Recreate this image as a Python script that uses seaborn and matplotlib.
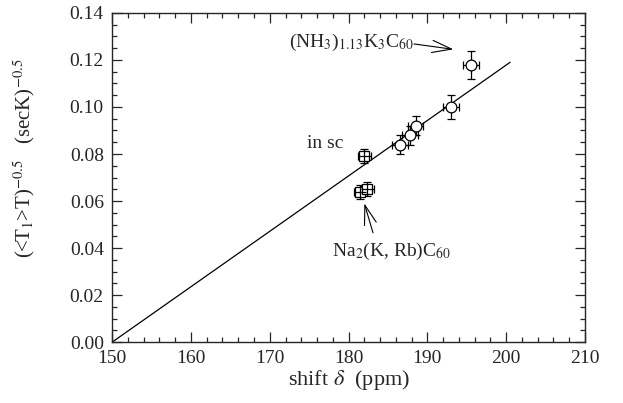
import matplotlib as mpl
import matplotlib.pyplot as plt
import numpy as np
import pandas as pd
import seaborn as sns
from matplotlib.ticker import MultipleLocator

# circle points (fulleride series)
circ_shift = [186.5, 187.8, 188.5, 193.0, 195.5]
circ_rate = [0.084, 0.088, 0.092, 0.100, 0.118]
circ_xerr = [1.0, 1.0, 1.0, 1.0, 1.0]
circ_yerr = [0.004, 0.004, 0.004, 0.005, 0.006]

# square points (Na2 compounds)
sq_shift = [182.0, 181.5, 182.4]
sq_rate = [0.079, 0.064, 0.065]
sq_xerr = [0.8, 0.8, 0.8]
sq_yerr = [0.003, 0.003, 0.003]

# fitted line
fit_shift = [150.0, 200.5]
fit_rate = [0.0, 0.119]

sns.set_style('ticks')
plt.rcParams['font.family'] = ['Liberation Serif', 'DejaVu Serif']
plt.rcParams['mathtext.fontset'] = 'stix'

fig = plt.figure(figsize=(6.23, 4.03), dpi=100)
ax = fig.add_axes([0.180, 0.151, 0.759, 0.817])

fit_df = pd.DataFrame({'shift': fit_shift, 'rate': fit_rate})
sns.lineplot(data=fit_df, x='shift', y='rate', ax=ax, color='black', lw=0.9)

ax.errorbar(circ_shift, circ_rate, xerr=circ_xerr, yerr=circ_yerr, fmt='none',
            ecolor='black', elinewidth=0.9, capsize=3, capthick=0.9)
sns.scatterplot(x=circ_shift, y=circ_rate, ax=ax, marker='o', s=60,
                facecolor='white', edgecolor='black', linewidth=0.9, zorder=3)

ax.errorbar(sq_shift, sq_rate, xerr=sq_xerr, yerr=sq_yerr, fmt='none',
            ecolor='black', elinewidth=0.9, capsize=3, capthick=0.9)
sns.scatterplot(x=sq_shift, y=sq_rate, ax=ax, marker='s', s=50,
                facecolor='white', edgecolor='black', linewidth=0.9, zorder=3)
ax.plot(sq_shift, sq_rate, '+', color='black', ms=9, mew=0.9, zorder=4)

arrow = dict(arrowstyle='->, head_length=0.7, head_width=0.22', color='black', lw=0.8,
             shrinkA=0, shrinkB=0, mutation_scale=20)

ax.text(172.5, 0.1275, r'(NH$_3$)$_{1.13}$K$_3$C$_{60}$', fontsize=14, va='center')
ax.annotate('', xy=(193.3, 0.1245), xytext=(188.3, 0.1268), arrowprops=arrow)

ax.text(174.7, 0.0845, 'in sc', fontsize=14, va='center')

ax.text(185.5, 0.0385, r'Na$_2$(K, Rb)C$_{60}$', fontsize=14, ha='center', va='center')
ax.annotate('', xy=(182.0, 0.0590), xytext=(183.1, 0.0465), arrowprops=arrow)

ax.set_xlim(150, 210)
ax.set_ylim(0, 0.14)
ax.xaxis.set_major_locator(MultipleLocator(10))
ax.xaxis.set_minor_locator(MultipleLocator(2))
ax.yaxis.set_major_locator(MultipleLocator(0.02))
ax.yaxis.set_minor_locator(MultipleLocator(0.005))
ax.set_yticklabels([f'{v:.2f}' for v in ax.get_yticks()])
ax.tick_params(which='both', direction='in', top=True, right=True, labelsize=14, width=0.9)
ax.tick_params(which='major', length=7, pad=6)
ax.tick_params(which='minor', length=3.5)
for s in ax.spines.values():
    s.set_linewidth(1.0)

ax.set_xlabel(r'shift $\delta$  (ppm)', fontsize=16)
ax.xaxis.set_label_coords(0.5, -0.08)
ax.set_ylabel(r'(<T$_1$>T)$^{-0.5}$   (secK)$^{-0.5}$', fontsize=15)
ax.yaxis.set_label_coords(-0.158, 0.56)

fig.savefig('out.png', dpi=100)
